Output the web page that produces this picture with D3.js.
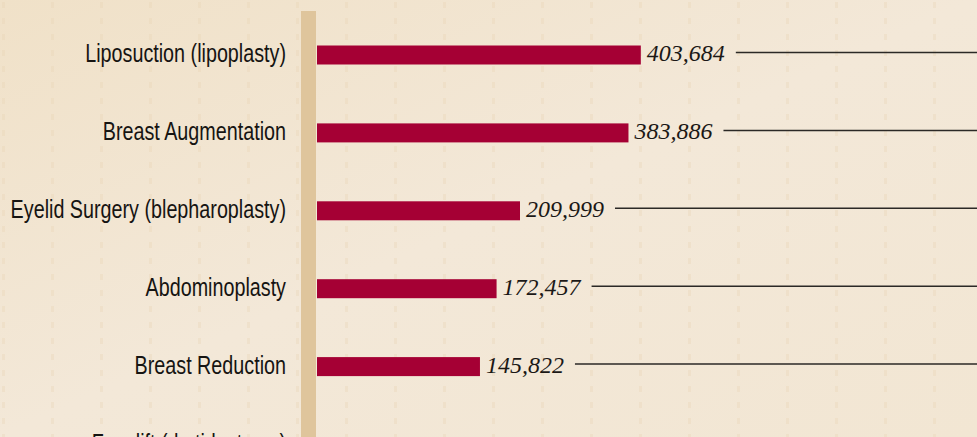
<html>
    <head>
        <style>
            body { margin: 0; background: #f2e5d2; overflow: hidden; }
            .label { font-family: "Liberation Sans", Arial, sans-serif; font-size: 25px; fill: #161412; }
            .value { font-family: "Liberation Serif", serif; font-style: italic; font-size: 24px; fill: #1b1816; }
            .leader { stroke: #2b2926; stroke-width: 1.5; }
        </style>
        <script src="https://d3js.org/d3.v7.min.js" charset="utf-8"></script>
    </head>
    <body>
        <div id="viz"></div>
        <script>
            // procedures, top to bottom (last row is cut off by the frame)
            const procedures = [
                "Liposuction (lipoplasty)",
                "Breast Augmentation",
                "Eyelid Surgery (blepharoplasty)",
                "Abdominoplasty",
                "Breast Reduction",
                "Facelift (rhytidectomy)"
            ];
            const counts = [403684, 383886, 209999, 172457, 145822];

            const width = 977, height = 437;
            const axisX = 301, axisW = 15;
            const barLeft = axisX + axisW + 1, barH = 19;

            let svg = d3.select("#viz").append("svg").attr("width", width).attr("height", height);

            // paper background with faint dashed grid
            let defs = svg.append("defs");
            let pat = defs.append("pattern").attr("id", "grid")
                .attr("patternUnits", "userSpaceOnUse").attr("width", 49).attr("height", 16)
                .attr("x", 2).attr("y", 0);
            pat.append("rect").attr("x", 0).attr("y", 2).attr("width", 3).attr("height", 6)
                .attr("fill", "#e6d2b4").attr("opacity", 0.35);
            let grad = defs.append("linearGradient").attr("id", "paper").attr("x1", 0).attr("y1", 0).attr("x2", 1).attr("y2", 1);
            grad.append("stop").attr("offset", 0).attr("stop-color", "#f0e1c8");
            grad.append("stop").attr("offset", 0.5).attr("stop-color", "#f3e8d8");
            grad.append("stop").attr("offset", 1).attr("stop-color", "#f2e6d3");

            svg.append("rect").attr("width", width).attr("height", height).attr("fill", "url(#paper)");
            svg.append("rect").attr("width", width).attr("height", height).attr("fill", "url(#grid)");

            let x = d3.scaleLinear().domain([-115400, 420000]).range([0, 334]);
            let y = d3.scalePoint().domain(procedures).range([55, 55 + 5 * 77.9]);

            // vertical tan axis
            svg.append("rect").attr("x", axisX).attr("y", 11).attr("width", axisW).attr("height", height - 11)
                .attr("fill", "#dfc59c");

            // condensed look: squeeze the sans horizontally
            svg.selectAll(".label").data(procedures).join("text")
                .attr("class", "label")
                .attr("transform", d => `translate(286, ${y(d) + 7}) scale(0.79, 1)`)
                .attr("text-anchor", "end")
                .text(d => d);

            let rows = svg.selectAll(".row").data(counts).join("g").attr("class", "row");

            rows.append("rect")
                .attr("x", barLeft)
                .attr("y", (d, i) => y(procedures[i]) - barH / 2)
                .attr("width", d => x(d) - x(-115400))
                .attr("height", barH)
                .attr("fill", "#a50034");

            rows.append("text")
                .attr("class", "value")
                .attr("x", d => barLeft + x(d) + 6)
                .attr("y", (d, i) => y(procedures[i]) + 6)
                .text(d => d3.format(",")(d));

            rows.each(function(d, i) {
                let t = d3.select(this).select("text");
                let end = +t.attr("x") + t.node().getComputedTextLength();
                d3.select(this).append("line")
                    .attr("class", "leader")
                    .attr("x1", end + 11).attr("x2", width)
                    .attr("y1", y(procedures[i]) - 2.5).attr("y2", y(procedures[i]) - 2.5);
            });
        </script>
    </body>
</html>
